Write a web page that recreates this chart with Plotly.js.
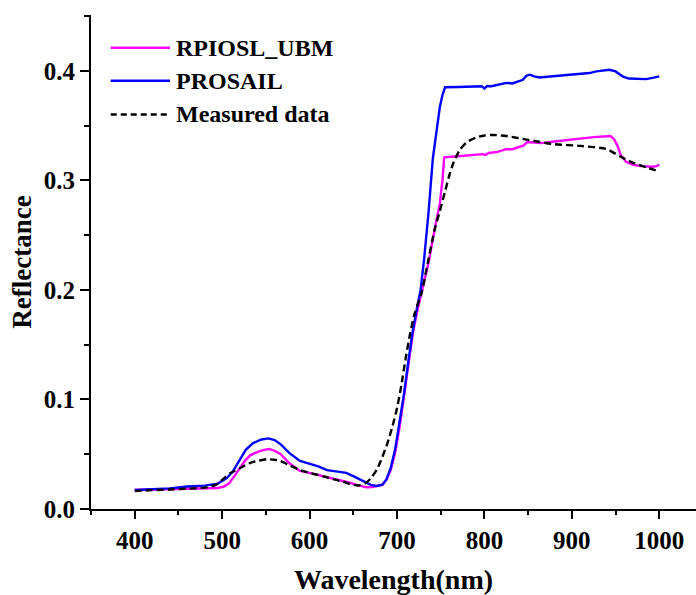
<!DOCTYPE html>
<html>
<head>
<meta charset="utf-8">
<script src="https://cdn.plot.ly/plotly-3.0.1.min.js"></script>
<style>html,body{margin:0;padding:0;background:#fff;overflow:hidden}#chart{width:696px;height:595px}</style>
</head>
<body>
<div id="chart"></div>
<script>
// RPIOSL_UBM (magenta)
const ubmWl = [400,420,440,460,480,495,502,508,514,520,526,532,540,548,554,560,567,577,589,600,615,628,638,646,654,660,665,672,678,684,688,693,698,703,708,713,718,723,728,736,743,749,752,754,770,790,798,801,805,815,825,832,840,845,849,855,865,880,895,910,925,944,948,952,956,962,970,980,992,997,1000];
const ubmR  = [0.0174,0.0178,0.0180,0.0183,0.0186,0.0192,0.0205,0.0235,0.030,0.037,0.044,0.049,0.052,0.054,0.0548,0.053,0.050,0.0417,0.0347,0.033,0.030,0.028,0.026,0.024,0.022,0.0205,0.0198,0.020,0.021,0.0225,0.027,0.036,0.052,0.075,0.103,0.133,0.160,0.180,0.197,0.2246,0.255,0.279,0.300,0.321,0.322,0.3235,0.324,0.3233,0.325,0.326,0.3285,0.3285,0.331,0.332,0.335,0.3345,0.334,0.3355,0.337,0.338,0.3395,0.3405,0.338,0.332,0.323,0.317,0.3142,0.313,0.3125,0.313,0.3145];

// PROSAIL (blue)
const proWl = [400,420,440,460,480,495,505,512,520,527,535,545,553,560,567,577,589,600,610,620,631,642,650,660,670,677,683,688,693,698,703,708,713,718,723,727,731,736,741,745,749,752,755,770,790,797,800,803,808,815,825,832,838,844,848,852,857,863,875,890,905,920,928,943,950,958,965,975,985,995,1000];
const proR  = [0.0174,0.0180,0.0188,0.0205,0.0213,0.0232,0.028,0.034,0.045,0.054,0.060,0.0635,0.0645,0.063,0.059,0.051,0.0438,0.0415,0.039,0.0355,0.034,0.033,0.030,0.026,0.022,0.021,0.022,0.027,0.038,0.055,0.078,0.105,0.135,0.162,0.184,0.200,0.228,0.270,0.320,0.346,0.367,0.378,0.385,0.3852,0.3855,0.386,0.3838,0.3862,0.386,0.3875,0.389,0.3885,0.3905,0.3918,0.3955,0.3965,0.395,0.394,0.3948,0.396,0.397,0.398,0.3995,0.401,0.3995,0.395,0.393,0.3925,0.3925,0.394,0.395];

// Measured data (black dashed)
const measWl = [400,420,440,460,480,493,502,509,520,531,541,551,560,566,577,589,600,615,628,638,648,656,663,670,677,683,689,695,700,705,710,715,720,728,735,743,749,755,760,765,772,780,790,800,810,825,850,880,910,940,955,970,985,1000];
const measR  = [0.0164,0.0172,0.0178,0.0185,0.0195,0.022,0.028,0.0326,0.037,0.0417,0.044,0.0454,0.045,0.044,0.040,0.0356,0.033,0.030,0.027,0.025,0.0225,0.0215,0.023,0.028,0.036,0.047,0.060,0.076,0.092,0.113,0.138,0.160,0.178,0.197,0.224,0.255,0.272,0.290,0.305,0.317,0.328,0.335,0.339,0.341,0.3415,0.3405,0.337,0.333,0.3315,0.3285,0.322,0.316,0.312,0.308];

const seriesNames = ['RPIOSL_UBM','PROSAIL','Measured data'];
const xTickVals = [400,500,600,700,800,900,1000];
const yTickVals = [0.0,0.1,0.2,0.3,0.4];
const yTickText = ['0.0','0.1','0.2','0.3','0.4'];

const FONT = 'Liberation Serif, Times New Roman, serif';

const traces = [
  {x: ubmWl, y: ubmR, name: seriesNames[0], mode:'lines', line:{color:'#FF00FF', width:2.4}},
  {x: proWl, y: proR, name: seriesNames[1], mode:'lines', line:{color:'#0000FF', width:2.4}},
  {x: measWl, y: measR, name: seriesNames[2], mode:'lines', line:{color:'#000000', width:2.4, dash:'7px,4px', shape:'spline', smoothing:0.6}}
];

// custom legend (long line samples like the reference)
const legColors = ['#FF00FF','#0000FF','#000000'];
const legDash = ['solid','solid','dash'];
const legY = [0.9338, 0.867, 0.7986];
const shapes = [];
const annotations = [];
for (let i = 0; i < 3; i++) {
  shapes.push({type:'line', xref:'paper', yref:'paper', x0:0.0326, x1:0.1306, y0:legY[i], y1:legY[i],
    line:{color:legColors[i], width:2.4, dash: legDash[i]==='dash' ? '6px,4px' : 'solid'}});
  annotations.push({xref:'paper', yref:'paper', x:0.138, y:legY[i], xanchor:'left', yanchor:'middle',
    text: seriesNames[i], showarrow:false, font:{family:FONT, size:24, color:'#000', weight:'bold'}});
}

const layout = {
  width: 696, height: 595,
  margin: {l:91, r:0, t:15, b:86},
  paper_bgcolor:'#fff', plot_bgcolor:'#fff',
  showlegend: false,
  font: {family: FONT, color:'#000'},
  xaxis: {
    range:[350, 1042], tickvals: xTickVals, ticks:'outside', ticklen:8, tickwidth:2, tickcolor:'#000',
    showline:true, linecolor:'#000', linewidth:2, showgrid:false, zeroline:false,
    tickfont:{family:FONT, size:25, color:'#000', weight:'bold'},
    minor:{dtick:50, tick0:350, ticks:'outside', ticklen:4, tickwidth:2, tickcolor:'#000', showgrid:false},
    title:{text:'Wavelength(nm)', font:{family:FONT, size:28, color:'#000', weight:'bold'}, standoff:16}
  },
  yaxis: {
    range:[0, 0.451], tickvals: yTickVals, ticktext: yTickText, ticks:'outside', ticklen:9, tickwidth:2, tickcolor:'#000',
    showline:true, linecolor:'#000', linewidth:2, showgrid:false, zeroline:false,
    tickfont:{family:FONT, size:25, color:'#000', weight:'bold'},
    minor:{dtick:0.05, tick0:0, ticks:'outside', ticklen:5, tickwidth:2, tickcolor:'#000', showgrid:false},
    title:{text:'Reflectance', font:{family:FONT, size:27, color:'#000', weight:'bold'}, standoff:4}
  },
  shapes: shapes,
  annotations: annotations
};

Plotly.newPlot('chart', traces, layout, {displayModeBar:false, staticPlot:true});
</script>
</body>
</html>
